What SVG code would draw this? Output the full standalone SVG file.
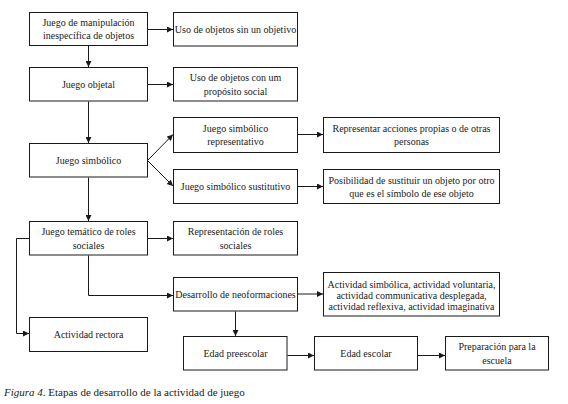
<svg xmlns="http://www.w3.org/2000/svg" width="568" height="404" viewBox="0 0 568 404">
<style>
  .box { fill: #ffffff; stroke: #1a1a1a; stroke-width: 1; }
  .t { font-size: 10px; fill: #1a1a1a; text-anchor: middle; }
  .cap { font-size: 11px; fill: #1a1a1a; }
  .c { fill: none; stroke: #1a1a1a; stroke-width: 1; marker-end: url(#arr); }
</style>
<defs>
  <marker id="arr" viewBox="0 0 10 10" refX="10" refY="5" markerWidth="7" markerHeight="6" markerUnits="userSpaceOnUse" orient="auto">
    <path d="M0,0 L10,5 L0,10 z" fill="#1a1a1a"/>
  </marker>
</defs>
<rect width="568" height="404" fill="#ffffff"/>

<g id="connectors">
  <line class="c" x1="88.5" y1="45.5" x2="88.5" y2="67"/>
  <line class="c" x1="147.5" y1="29.5" x2="173" y2="29.5"/>
  <line class="c" x1="147.5" y1="84.5" x2="173" y2="84.5"/>
  <line class="c" x1="88.5" y1="101.5" x2="88.5" y2="143"/>
  <line class="c" x1="147.5" y1="160.5" x2="173" y2="134.5"/>
  <line class="c" x1="147.5" y1="160.5" x2="173" y2="186"/>
  <line class="c" x1="297.5" y1="134.5" x2="323" y2="134.5"/>
  <line class="c" x1="297.5" y1="186.5" x2="323" y2="186.5"/>
  <line class="c" x1="88.5" y1="177.5" x2="88.5" y2="221"/>
  <line class="c" x1="147.5" y1="238.5" x2="173" y2="238.5"/>
  <polyline class="c" points="88.5,255.5 88.5,295.5 173,295.5"/>
  <polyline class="c" points="29.5,238.5 16.5,238.5 16.5,333.5 29,333.5"/>
  <line class="c" x1="297.5" y1="294" x2="323" y2="294"/>
  <line class="c" x1="235.5" y1="311.5" x2="235.5" y2="336"/>
  <line class="c" x1="287.5" y1="355.5" x2="314" y2="355.5"/>
  <line class="c" x1="417.5" y1="355.5" x2="445" y2="355.5"/>
</g>

<g font-family="Liberation Serif, Times New Roman, serif">
<g id="n1"><rect class="box" x="29.5" y="12.5" width="118" height="33"/>
  <text class="t" x="88.5" y="25.8">Juego de manipulación</text>
  <text class="t" x="88.5" y="39.3">inespecífica de objetos</text></g>
<g id="n2"><rect class="box" x="173.5" y="12.5" width="124" height="33.5"/>
  <text class="t" x="235.5" y="33">Uso de objetos sin un objetivo</text></g>
<g id="n3"><rect class="box" x="29.5" y="67.5" width="118" height="33.5"/>
  <text class="t" x="88.5" y="88">Juego objetal</text></g>
<g id="n4"><rect class="box" x="173.5" y="67.5" width="124" height="33.5"/>
  <text class="t" x="235.5" y="80.5">Uso de objetos con um</text>
  <text class="t" x="235.5" y="94.5">propósito social</text></g>
<g id="n5"><rect class="box" x="29.5" y="143.5" width="118" height="33.5"/>
  <text class="t" x="88.5" y="164">Juego simbólico</text></g>
<g id="n6"><rect class="box" x="173.5" y="117.5" width="124" height="35"/>
  <text class="t" x="235.5" y="131.5">Juego simbólico</text>
  <text class="t" x="235.5" y="145">representativo</text></g>
<g id="n7"><rect class="box" x="173.5" y="169.5" width="124" height="34"/>
  <text class="t" x="235.5" y="189.5">Juego simbólico sustitutivo</text></g>
<g id="n8"><rect class="box" x="323.5" y="117.5" width="176" height="35"/>
  <text class="t" x="411.5" y="131.5">Representar acciones propias o de otras</text>
  <text class="t" x="411.5" y="145">personas</text></g>
<g id="n9"><rect class="box" x="323.5" y="169.5" width="176" height="34"/>
  <text class="t" x="411.5" y="183.5">Posibilidad de sustituir un objeto por otro</text>
  <text class="t" x="411.5" y="197">que es el símbolo de ese objeto</text></g>
<g id="n10"><rect class="box" x="29.5" y="221.5" width="118" height="33.5"/>
  <text class="t" x="88.5" y="235">Juego temático de roles</text>
  <text class="t" x="88.5" y="248.5">sociales</text></g>
<g id="n11"><rect class="box" x="173.5" y="221.5" width="124" height="33.5"/>
  <text class="t" x="235.5" y="235">Representación de roles</text>
  <text class="t" x="235.5" y="248.5">sociales</text></g>
<g id="n12"><rect class="box" x="173.5" y="277.5" width="124" height="33.5"/>
  <text class="t" x="235.5" y="298">Desarrollo de neoformaciones</text></g>
<g id="n13"><rect class="box" x="323.5" y="272.5" width="176" height="43.5"/>
  <text class="t" x="411.5" y="287.5">Actividad simbólica, actividad voluntaria,</text>
  <text class="t" x="411.5" y="298.5">actividad communicativa desplegada,</text>
  <text class="t" x="411.5" y="310">actividad reflexiva, actividad imaginativa</text></g>
<g id="n14"><rect class="box" x="29.5" y="317.5" width="118" height="34"/>
  <text class="t" x="88.5" y="338">Actividad rectora</text></g>
<g id="n15"><rect class="box" x="183.5" y="336.5" width="103.5" height="33.5"/>
  <text class="t" x="235.5" y="357">Edad preescolar</text></g>
<g id="n16"><rect class="box" x="314.5" y="336.5" width="103" height="33.5"/>
  <text class="t" x="366" y="357">Edad escolar</text></g>
<g id="n17"><rect class="box" x="445.5" y="336.5" width="103" height="33.5"/>
  <text class="t" x="497" y="350">Preparación para la</text>
  <text class="t" x="497" y="363.5">escuela</text></g>

<text class="cap" x="4" y="396"><tspan font-style="italic">Figura 4</tspan>. Etapas de desarrollo de la actividad de juego</text>
</g>
</svg>
